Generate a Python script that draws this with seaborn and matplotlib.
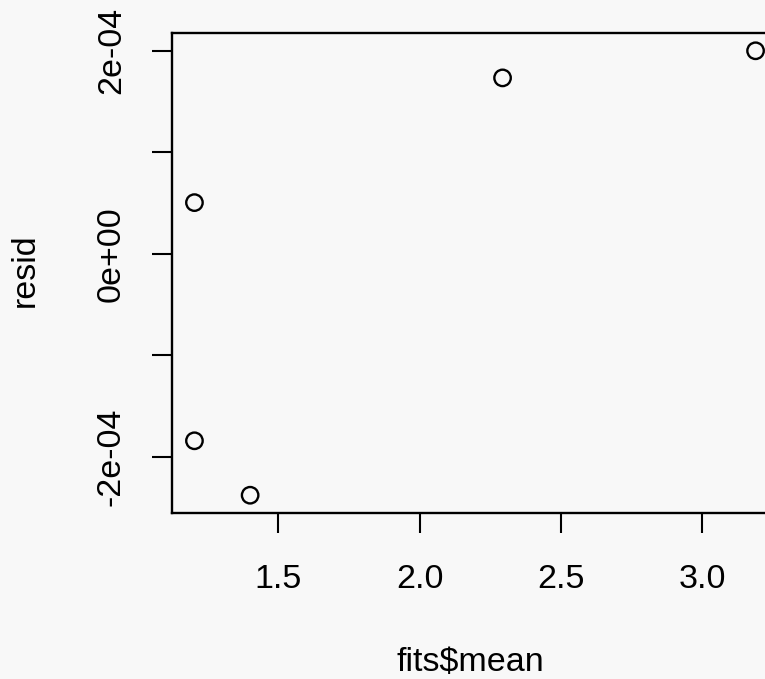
import numpy as np
import pandas as pd
import matplotlib
matplotlib.use("Agg")
import matplotlib.pyplot as plt
import seaborn as sns

# residuals vs fitted means
fitted_mean = [1.203, 1.203, 1.400, 2.293, 3.188]
resid = [0.505e-4, -1.84e-4, -2.376e-4, 1.733e-4, 2.0e-4]

x_ticks = [1.5, 2.0, 2.5, 3.0]
x_tick_labels = ["1.5", "2.0", "2.5", "3.0"]
y_ticks = [-2e-4, -1e-4, 0.0, 1e-4, 2e-4]
y_tick_labels = ["-2e-04", "", "0e+00", "", "2e-04"]

df = pd.DataFrame({"fits$mean": fitted_mean, "resid": resid})

sns.set_theme(style="white")
plt.rcParams["font.family"] = ["Liberation Sans", "DejaVu Sans"]

bg = "#f8f8f8"
fs = 24.5
fig = plt.figure(figsize=(7.65, 6.79), dpi=100, facecolor=bg)
ax = fig.add_axes([172 / 765, 1 - 513 / 679, 606 / 765, 480 / 679])
ax.set_facecolor(bg)

sns.scatterplot(data=df, x="fits$mean", y="resid", ax=ax, marker="o",
                s=140, facecolor="none", edgecolor="black", linewidth=1.7)

# R-style 4% padding
xr = max(fitted_mean) - min(fitted_mean)
yr = max(resid) - min(resid)
ax.set_xlim(min(fitted_mean) - 0.04 * xr, max(fitted_mean) + 0.04 * xr)
ax.set_ylim(min(resid) - 0.04 * yr, max(resid) + 0.04 * yr)

for s in ax.spines.values():
    s.set_visible(True)
    s.set_color("black")
    s.set_linewidth(1.7)

ax.set_xticks(x_ticks)
ax.set_xticklabels(x_tick_labels)
ax.set_yticks(y_ticks)
ax.set_yticklabels(y_tick_labels, rotation=90, va="center")
ax.tick_params(axis="both", direction="out", length=14.5, width=1.5,
               color="black", labelsize=fs, labelcolor="black",
               bottom=True, left=True, top=False, right=False)
ax.tick_params(axis="x", pad=22)
ax.tick_params(axis="y", pad=18)

ax.set_xlabel("fits$mean", fontsize=fs, color="black")
ax.set_ylabel("resid", fontsize=fs, color="black")
ax.xaxis.set_label_coords(0.4917, -0.28)
ax.yaxis.set_label_coords(-0.216, 0.505)

fig.savefig("out.png", dpi=100, facecolor=bg)
